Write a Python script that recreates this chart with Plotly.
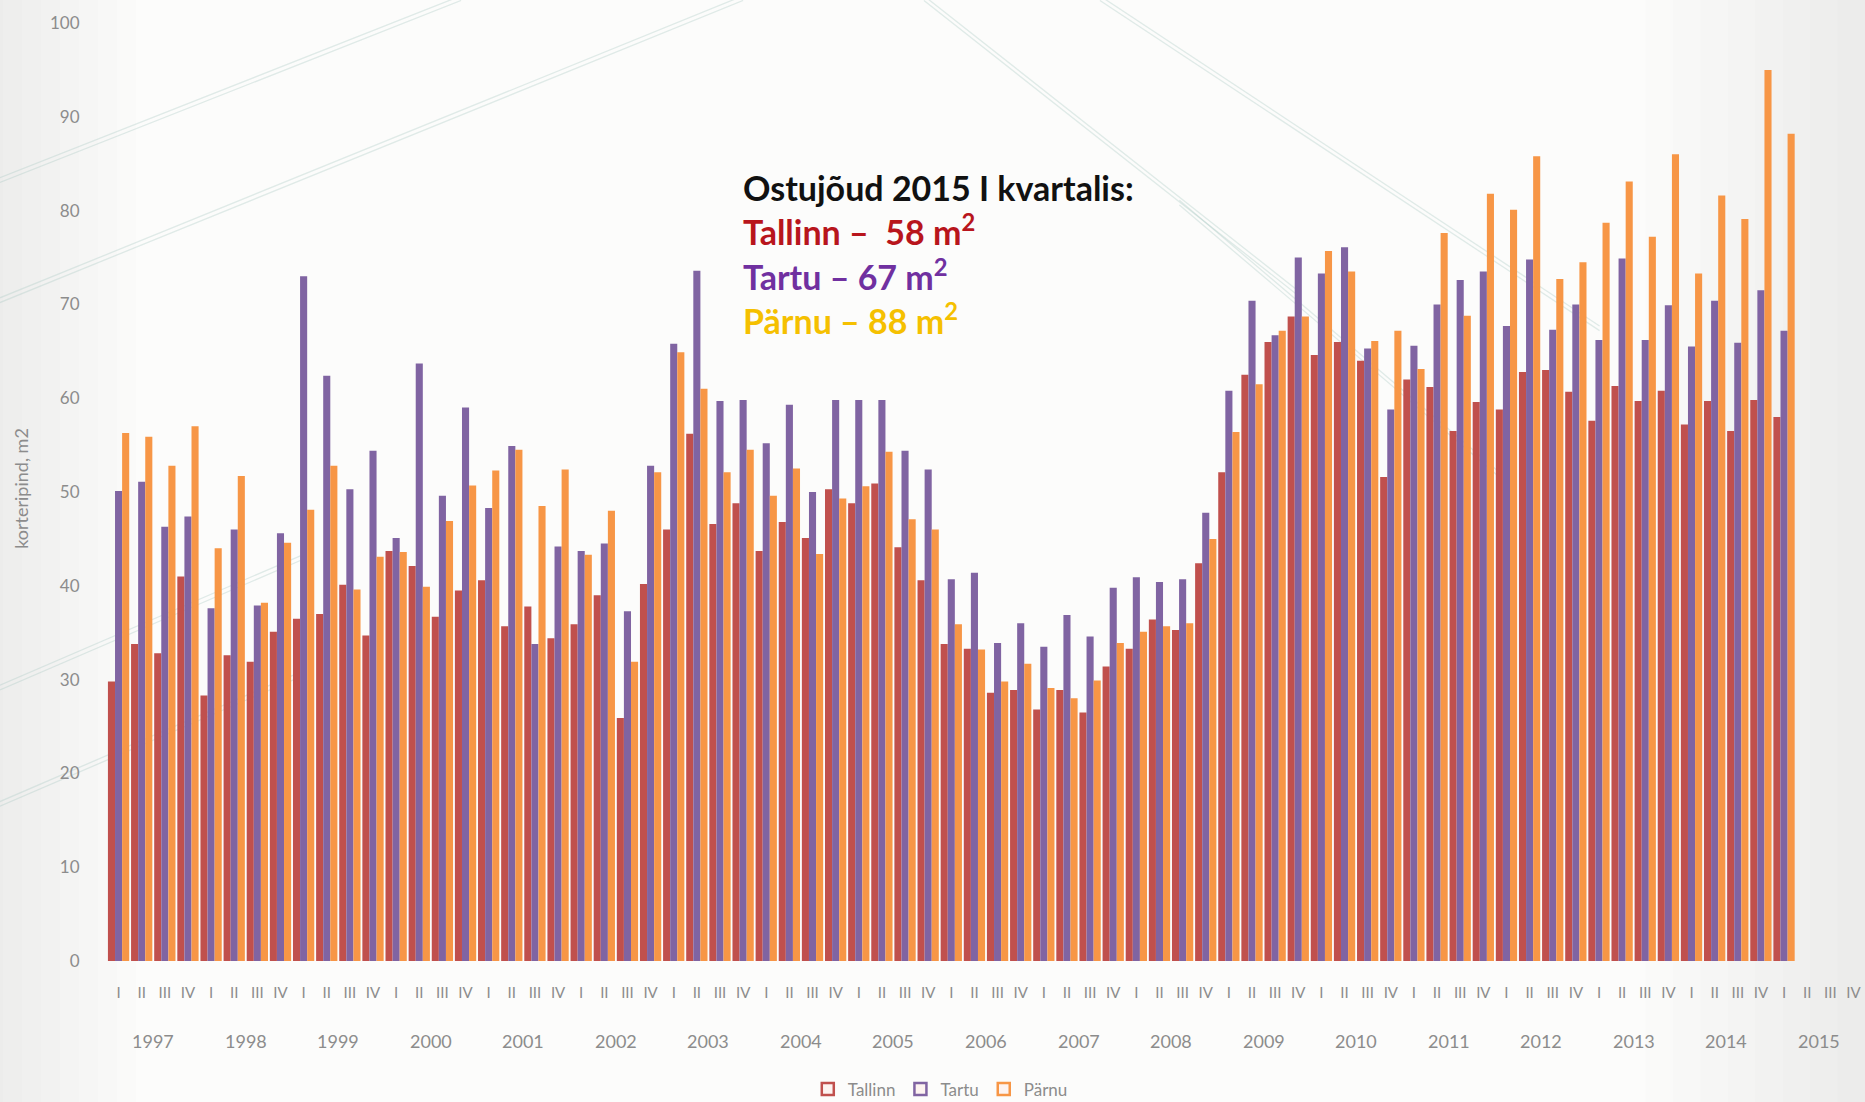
import plotly.graph_objects as go

years = [str(y) for y in range(1997, 2016)]
quarters = ["I", "II", "III", "IV"]

tallinn = [29.8, 33.8, 32.8, 41.0, 28.3, 32.6, 31.9, 35.1, 36.5, 37.0, 40.1, 34.7,
           43.7, 42.1, 36.7, 39.5, 40.6, 35.7, 37.8, 34.4, 35.9, 39.0, 25.9, 40.2,
           46.0, 56.2, 46.6, 48.8, 43.7, 46.8, 45.1, 50.3, 48.8, 50.9, 44.1, 40.6,
           33.8, 33.3, 28.6, 28.9, 26.8, 28.9, 26.5, 31.4, 33.3, 36.4, 35.3, 42.4,
           52.1, 62.5, 66.0, 68.7, 64.6, 66.0, 64.0, 51.6, 62.0, 61.2, 56.5, 59.6,
           58.8, 62.8, 63.0, 60.7, 57.6, 61.3, 59.7, 60.8, 57.2, 59.7, 56.5, 59.8,
           58.0]
tartu = [50.1, 51.1, 46.3, 47.4, 37.6, 46.0, 37.9, 45.6, 73.0, 62.4, 50.3, 54.4,
         45.1, 63.7, 49.6, 59.0, 48.3, 54.9, 33.8, 44.2, 43.7, 44.5, 37.3, 52.8,
         65.8, 73.6, 59.7, 59.8, 55.2, 59.3, 50.0, 59.8, 59.8, 59.8, 54.4, 52.4,
         40.7, 41.4, 33.9, 36.0, 33.5, 36.9, 34.6, 39.8, 40.9, 40.4, 40.7, 47.8,
         60.8, 70.4, 66.7, 75.0, 73.3, 76.1, 65.3, 58.8, 65.6, 70.0, 72.6, 73.5,
         67.7, 74.8, 67.3, 70.0, 66.2, 74.9, 66.2, 69.9, 65.5, 70.4, 65.9, 71.5,
         67.2]
parnu = [56.3, 55.9, 52.8, 57.0, 44.0, 51.7, 38.2, 44.6, 48.1, 52.8, 39.6, 43.1,
         43.6, 39.9, 46.9, 50.7, 52.3, 54.5, 48.5, 52.4, 43.3, 48.0, 31.9, 52.1,
         64.9, 61.0, 52.1, 54.5, 49.6, 52.5, 43.4, 49.3, 50.6, 54.3, 47.1, 46.0,
         35.9, 33.2, 29.8, 31.7, 29.1, 28.0, 29.9, 33.9, 35.1, 35.7, 36.0, 45.0,
         56.4, 61.5, 67.2, 68.7, 75.7, 73.5, 66.1, 67.2, 63.1, 77.6, 68.8, 81.8,
         80.1, 85.8, 72.7, 74.5, 78.7, 83.1, 77.2, 86.0, 73.3, 81.6, 79.1, 95.0,
         88.2]

series_names = ["Tallinn", "Tartu", "Pärnu"]
series_colors = ["#C0504D", "#8064A2", "#F79646"]
series_values = [tallinn, tartu, parnu]

n_slots = len(years) * len(quarters)
slot_labels = [q for _ in years for q in quarters]
x_idx = list(range(len(tallinn)))

fig = go.Figure()
for name, col, vals in zip(series_names, series_colors, series_values):
    fig.add_trace(go.Bar(x=x_idx, y=vals, name=name, marker=dict(color=col, line=dict(width=0)),
                         showlegend=False))
for name, col in zip(series_names, series_colors):
    fig.add_trace(go.Scatter(x=[None], y=[None], mode="markers", name=name,
                             marker=dict(symbol="square", size=12, color="#fdf3f0",
                                         line=dict(color=col, width=2.5))))

grey = "#8c8c8c"
font_fam = "Lato, 'Open Sans', sans-serif"

# year labels
for i, y in enumerate(years):
    fig.add_annotation(x=i * 4 + 1.5, y=-0.0853, xref="x", yref="paper", text=y,
                       showarrow=False, font=dict(size=18, color=grey, family=font_fam),
                       xanchor="center", yanchor="middle")

# y-axis title
fig.add_annotation(x=-0.056, y=0.504, xref="paper", yref="paper", text="korteripind, m2",
                   textangle=-90, showarrow=False,
                   font=dict(size=18, color=grey, family=font_fam))

# info box text
info_lines = [
    ("Ostujõud 2015 I kvartalis:", "#111111"),
    ("Tallinn –  58 m<sup>2</sup>", "#B8151C"),
    ("Tartu – 67 m<sup>2</sup>", "#7030A0"),
    ("Pärnu – 88 m<sup>2</sup>", "#F5C000"),
]
info_y_px = [187, 230, 275, 319]
for (txt, col), ypx in zip(info_lines, info_y_px):
    fig.add_annotation(x=(741 - 107) / 1758, y=(961 - ypx) / 938.4, xref="paper", yref="paper",
                       text="<b>" + txt + "</b>", showarrow=False, xanchor="left", yanchor="middle",
                       font=dict(size=34, color=col, family=font_fam))

# faint edge shading (slide vignette)
for k in range(8):
    w = 0.012 * (k + 1)
    fig.add_shape(type="rect", xref="paper", yref="paper", x0=-0.07, x1=-0.07 + w * 0.9,
                  y0=-0.16, y1=1.03, line=dict(width=0), fillcolor="rgba(120,120,110,0.012)",
                  layer="below")
    fig.add_shape(type="rect", xref="paper", yref="paper", x0=1.0 - w * 1.3, x1=1.0,
                  y0=-0.16, y1=1.03, line=dict(width=0), fillcolor="rgba(120,120,110,0.010)",
                  layer="below")

# faint decorative background lines (slide template)
deco = [
    ((-0.0609, 0.830), (0.2014, 1.024)),
    ((-0.0609, 0.702), (0.3618, 1.024)),
    ((-0.0609, 0.289), (0.110, 0.427)),
    ((-0.0609, 0.165), (0.110, 0.303)),
    ((0.4647, 1.024), (0.6786, 0.708)),
    ((0.5648, 1.024), (0.849, 0.672)),
    ((0.610, 0.806), (0.792, 0.516)),
]
for (x0, y0), (x1, y1) in deco:
    for off in (0, 0.005):
        fig.add_shape(type="line", xref="paper", yref="paper", x0=x0, y0=y0 + off, x1=x1, y1=y1 + off,
                      line=dict(color="rgba(170,200,195,0.35)", width=1.3), layer="below")

fig.update_layout(
    width=1865, height=1102,
    margin=dict(l=107, r=0, t=22.6, b=141, autoexpand=False),
    paper_bgcolor="#fcfcfb",
    plot_bgcolor="rgba(0,0,0,0)",
    barmode="group",
    bargap=0.08,
    bargroupgap=0,
    font=dict(family=font_fam, color=grey),
    legend=dict(orientation="h", x=0.474, y=-0.137, xanchor="center", yanchor="middle",
                font=dict(size=17, color=grey, family=font_fam), bgcolor="rgba(0,0,0,0)",
                itemwidth=30, tracegroupgap=0),
    xaxis=dict(range=[-0.5, n_slots - 0.5], tickmode="array", tickvals=list(range(n_slots)),
               ticktext=slot_labels, tickangle=0, showgrid=False, zeroline=False, showline=False,
               ticks="outside", ticklen=18, tickcolor="rgba(0,0,0,0)", automargin=False,
               tickfont=dict(size=15, color=grey, family=font_fam)),
    yaxis=dict(range=[0, 100], dtick=10, showgrid=False, zeroline=False, showline=False,
               ticks="outside", ticklen=23, tickcolor="rgba(0,0,0,0)", automargin=False,
               tickfont=dict(size=17, color=grey, family=font_fam)),
)

fig.write_html("out.html", config={"displayModeBar": False},
               post_script="document.body.style.margin='0px';")
